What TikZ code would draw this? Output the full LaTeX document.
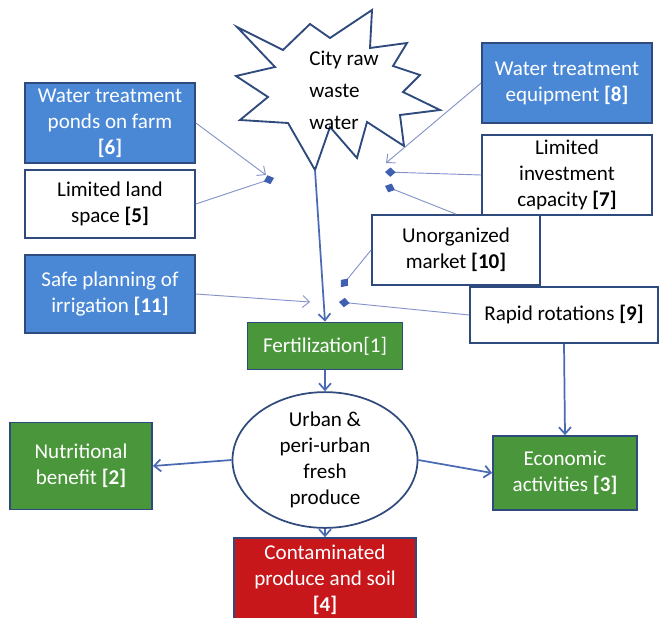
\documentclass[tikz,border=0pt]{standalone}
\usepackage{fontspec}
\setmainfont{Carlito}
\usetikzlibrary{
	arrows.meta,
	calc,
	positioning,
	shapes.geometric,
}
\definecolor{boxblue}{HTML}{4A88D6}
\definecolor{boxgreen}{HTML}{4A963A}
\definecolor{boxred}{HTML}{C8171B}
\definecolor{edgeblue}{HTML}{2F4A7C}
\definecolor{linkblue}{HTML}{4A6AB4}
\definecolor{thinblue}{HTML}{8593C8}
\definecolor{dotblue}{HTML}{3F5FB0}
\tikzset{base box/.style={
	draw=edgeblue,
	rectangle,
	line width=1.3pt,
	align=center,
	inner sep=1mm,
	font=\fontsize{15.8}{19.5}\selectfont,
}}
\tikzset{
	box size/.style 2 args={minimum width=#1*0.75pt, minimum height=#2*0.75pt},
	white box/.style={base box, fill=white, text=black},
	blue box/.style={base box, fill=boxblue, text=white},
	green box/.style={base box, fill=boxgreen, text=white},
	red box/.style={base box, fill=boxred, text=white},
	main link/.style={-{Straight Barb[length=5pt,width=9pt]}, linkblue, line width=1.3pt},
	thin link/.style={-{Straight Barb[length=5pt,width=9pt]}, thinblue, line width=0.7pt},
	dot link/.style={-{Diamond[length=8pt,width=7pt,color=dotblue,fill=dotblue]}, thinblue, line width=0.7pt},
}

\begin{document}
\begin{tikzpicture}[x=0.75pt, y=-0.75pt]
\useasboundingbox (0,0) rectangle (659,617);

% source of the waste water
\draw[edgeblue, line width=1.4pt, fill=white, line join=miter]
	(237,27) -- (283,50) -- (310,24) -- (330,38) -- (372,10) -- (370,48)
	-- (407,43) -- (393,66) -- (420,75) -- (403,92) -- (440,110) -- (400,115)
	-- (404,146) -- (367,122) -- (357,158) -- (330,127) -- (315,170)
	-- (288,123) -- (240,120) -- (268,97) -- (236,76) -- (275,67) -- cycle;
\node(city)[align=left, font=\fontsize{15.8}{24}\selectfont] at (344,90) {City raw\\waste\\water};
\coordinate(cityTip) at (315,170);

\node(ponds)[blue box, box size={170}{80}] at (110,123) {Water treatment\\ponds on farm\\\textbf{[6]}};
\node(land)[white box, box size={170}{68}] at (110,204) {Limited land\\space \textbf{[5]}};
\node(irrig)[blue box, box size={170}{78}] at (110,294) {Safe planning of\\irrigation \textbf{[11]}};
\node(equip)[blue box, box size={170}{80}] at (567,83) {Water treatment\\equipment \textbf{[8]}};
\node(invest)[white box, box size={170}{80}] at (567,175) {Limited\\investment\\capacity \textbf{[7]}};
\node(market)[white box, box size={168}{70}] at (456,250) {Unorganized\\market \textbf{[10]}};
\node(rotat)[white box, box size={188}{56}] at (564,315) {Rapid rotations \textbf{[9]}};
\node(fert)[green box, box size={155}{47}] at (325,346) {Fertilization[1]};
\node(produce)[draw=edgeblue, line width=1.3pt, ellipse, minimum width=185*0.75pt, minimum height=114*0.75pt,
	inner sep=0pt, align=center, font=\fontsize{15.8}{19.5}\selectfont] at (325,460) {Urban \&\\peri-urban\\fresh\\produce};
\node(nutri)[green box, box size={142}{87}] at (81,466) {Nutritional\\benefit \textbf{[2]}};
\node(econ)[green box, box size={144}{74}] at (565,473) {Economic\\activities \textbf{[3]}};
\node(contam)[red box, box size={182}{84}] at (325,580) {Contaminated\\produce and soil\\\textbf{[4]}};

% ends of the side links
\coordinate(p1) at (266,175);
\coordinate(p2) at (386,163);
\coordinate(p3) at (310,302);
\coordinate(q1) at (274,178);
\coordinate(q2) at (385,172);
\coordinate(q3) at (385,186);
\coordinate(q4) at (341,287);
\coordinate(q5) at (339,302);

\draw[thin link] (ponds.east) -- (p1);
\draw[thin link] (equip.west) -- (p2);
\draw[thin link] (irrig.east) -- (p3);
\draw[dot link] (land.east) -- (q1);
\draw[dot link] (invest.west) -- (q2);
\draw[dot link] (market.north) -- (q3);
\draw[dot link] (market.west) -- (q4);
\draw[dot link] (rotat.west) -- (q5);

\draw[main link] (cityTip) -- (fert.north);
\draw[main link] (fert.south) -- (produce.north);
\draw[main link] (rotat.south) -- (econ.north);
\draw[main link] (produce.west) -- (nutri.east);
\draw[main link] (produce.east) -- (econ.west);
\draw[main link] (produce.south) -- (contam.north);

\end{tikzpicture}
\end{document}
